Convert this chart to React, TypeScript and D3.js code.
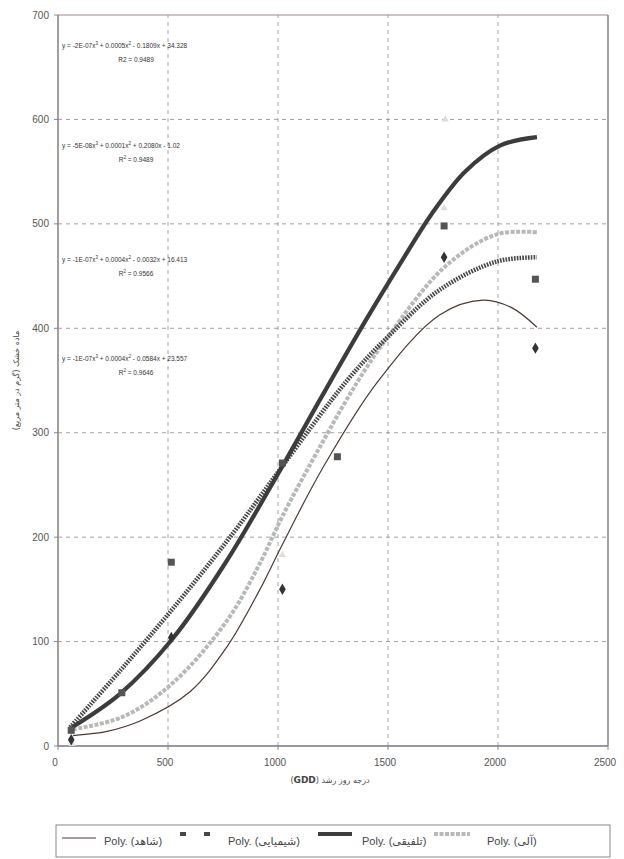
import React from 'react';
import * as d3 from 'd3';

// GDD values and observed dry matter (g/m2)
const controlPts = [[60, 6], [515, 104], [1020, 150], [1755, 468], [2170, 381]];
const chemPts = [[60, 15], [290, 51], [515, 176], [1020, 271], [1270, 277], [1755, 498], [2170, 447]];
const faintPts = [[1020, 183], [1755, 515], [1760, 600], [65, 2]];

// trend lines
const controlTrend = [[68, 10], [160, 12], [223, 14], [373, 24], [600, 52], [768, 95], [918, 150], [1020, 193], [1200, 265], [1450, 348], [1736, 413], [1932, 427], [2060, 420], [2177, 401]];
const chemTrend = [[55, 18], [282, 72], [555, 140], [800, 205], [1020, 268], [1318, 351], [1500, 392], [1736, 437], [1995, 464], [2177, 468]];
const mixTrend = [[64, 18], [282, 50], [518, 102], [760, 175], [1020, 268], [1200, 335], [1400, 408], [1550, 460], [1700, 510], [1850, 550], [2009, 575], [2177, 583]];
const organicTrend = [[68, 16], [295, 28], [520, 60], [768, 120], [918, 175], [1020, 220], [1200, 290], [1359, 348], [1500, 392], [1759, 459], [1995, 490], [2177, 492]];

const xTicks = [0, 500, 1000, 1500, 2000, 2500];
const yTicks = [0, 100, 200, 300, 400, 500, 600, 700];

// [x3 coef, x2 coef, rest, R2 label, R2 sup, R2 value]
const equations = [
  ['y = -2E-07x', ' + 0.0005x', ' - 0.1809x + 34.328', 'R2', '', ' = 0.9489'],
  ['y = -5E-08x', ' + 0.0001x', ' + 0.2080x - 1.02', 'R', '2', ' = 0.9489'],
  ['y = -1E-07x', ' + 0.0004x', ' - 0.0032x + 16.413', 'R', '2', ' = 0.9566'],
  ['y = -1E-07x', ' + 0.0004x', ' - 0.0584x + 23.557', 'R', '2', ' = 0.9646'],
];
const eqY = [48, 148, 262, 361];

const font = 'Arial, "Liberation Sans", "DejaVu Sans", sans-serif';

export default function App() {
  const x = d3.scaleLinear().domain([0, 2500]).range([58, 608]);
  const y = d3.scaleLinear().domain([0, 700]).range([746, 15]);
  const line = d3.line<number[]>().x(d => x(d[0])).y(d => y(d[1])).curve(d3.curveCatmullRom.alpha(0.5));

  return (
    <svg width={624} height={859} style={{ position: 'absolute', left: 0, top: 0, background: '#fff' }} fontFamily={font}>
      {/* grid */}
      {yTicks.slice(1, -1).map(t => (
        <line key={'gy' + t} x1={x(0)} x2={x(2500)} y1={y(t)} y2={y(t)} stroke="#999" strokeWidth={0.9} strokeDasharray="4 4" />
      ))}
      {xTicks.slice(1, -1).map(t => (
        <line key={'gx' + t} x1={x(t)} x2={x(t)} y1={y(0)} y2={y(700)} stroke="#999" strokeWidth={0.9} strokeDasharray="4 4" />
      ))}
      {/* frame */}
      <line x1={x(0)} x2={x(2500)} y1={y(700)} y2={y(700)} stroke="#a08890" strokeWidth={1.2} />
      <line x1={x(2500)} x2={x(2500)} y1={y(700)} y2={y(0)} stroke="#666" strokeWidth={1.2} />
      <line x1={x(0)} x2={x(0)} y1={y(700)} y2={y(0)} stroke="#888" strokeWidth={1.6} />
      <line x1={x(0)} x2={x(2500)} y1={y(0)} y2={y(0)} stroke="#7a7288" strokeWidth={1.6} />
      {yTicks.map(t => (
        <g key={'ty' + t}>
          <line x1={x(0) - 4} x2={x(0)} y1={y(t)} y2={y(t)} stroke="#888" />
          <text x={x(0) - 9} y={y(t) + 3.5} textAnchor="end" fontSize={10} fill="#555">{t}</text>
        </g>
      ))}
      {xTicks.map(t => (
        <g key={'tx' + t}>
          <line x1={x(t)} x2={x(t)} y1={y(0)} y2={y(0) + 4} stroke="#888" />
          <text x={x(t) - 3} y={y(0) + 20} textAnchor="middle" fontSize={10} fill="#555">{t}</text>
        </g>
      ))}

      {/* equations */}
      {equations.map((e, i) => (
        <g key={'eq' + i} fontSize={6.5} fill="#333">
          <text x={62} y={eqY[i]}>
            {e[0]}<tspan dy={-3} fontSize={4.5}>3</tspan>
            <tspan dy={3}>{e[1]}</tspan><tspan dy={-3} fontSize={4.5}>2</tspan>
            <tspan dy={3}>{e[2]}</tspan>
          </text>
          {e[4] ? (
            <text x={136} y={eqY[i] + 14} textAnchor="middle">
              {e[3]}<tspan dy={-3} fontSize={4.5}>{e[4]}</tspan><tspan dy={3}>{e[5]}</tspan>
            </text>
          ) : (
            <text x={136} y={eqY[i] + 14} textAnchor="middle">{e[3] + e[5]}</text>
          )}
        </g>
      ))}

      {/* trend lines */}
      <path d={line(organicTrend) || ''} fill="none" stroke="#b8b8b8" strokeWidth={4} strokeDasharray="4 1.5" />
      <path d={line(controlTrend) || ''} fill="none" stroke="#4a3a34" strokeWidth={1.2} />
      <path d={line(chemTrend) || ''} fill="none" stroke="#454545" strokeWidth={4.5} strokeDasharray="1.6 1.2" />
      <path d={line(mixTrend) || ''} fill="none" stroke="#3c3c3c" strokeWidth={4.2} />

      {/* markers */}
      {faintPts.map((p, i) => (
        <path key={'f' + i} d={d3.symbol(d3.symbolTriangle, 22)() || ''} transform={`translate(${x(p[0])},${y(p[1])})`} fill="#ddd" />
      ))}
      {chemPts.map((p, i) => (
        <rect key={'s' + i} x={x(p[0]) - 3.5} y={y(p[1]) - 3.5} width={7} height={7} fill="#555" />
      ))}
      {controlPts.map((p, i) => (
        <path key={'d' + i} d={d3.symbol(d3.symbolDiamond, 38)() || ''} transform={`translate(${x(p[0])},${y(p[1])})`} fill="#333" />
      ))}

      {/* axis titles */}
      <text transform={`translate(19,${y(350)}) rotate(-90)`} textAnchor="middle" direction="rtl" fontSize={8} fill="#444" fontFamily='"DejaVu Sans", sans-serif'>
        ماده خشک (گرم در متر مربع)
      </text>
      <text x={330} y={783} textAnchor="middle" direction="rtl" fontSize={8} fill="#444" fontFamily='"DejaVu Sans", sans-serif'>
        درجه روز رشد (<tspan fontWeight="bold" fontSize={9}>GDD</tspan>)
      </text>

      {/* legend */}
      <rect x={56} y={825} width={554} height={32} fill="#fff" stroke="#888" strokeWidth={1} />
      <line x1={62} x2={96} y1={838} y2={838} stroke="#4a3a34" strokeWidth={1.2} />
      <text x={104} y={845} fontSize={11} fill="#444">Poly. (شاهد)</text>
      <line x1={180} x2={212} y1={834} y2={834} stroke="#454545" strokeWidth={4} strokeDasharray="6 18" />
      <text x={228} y={845} fontSize={11} fill="#444">Poly. (شیمیایی)</text>
      <line x1={318} x2={352} y1={834} y2={834} stroke="#3c3c3c" strokeWidth={4.2} />
      <text x={362} y={845} fontSize={11} fill="#444">Poly. (تلفیقی)</text>
      <line x1={434} x2={470} y1={834} y2={834} stroke="#b8b8b8" strokeWidth={4} strokeDasharray="4 1.5" />
      <text x={487} y={845} fontSize={11} fill="#444">Poly. (آلی)</text>
    </svg>
  );
}
